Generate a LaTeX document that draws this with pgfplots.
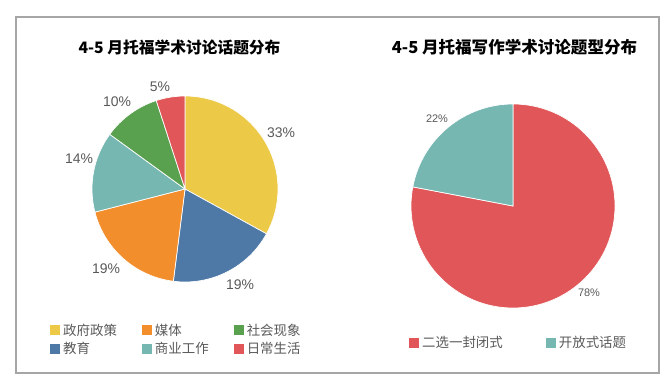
\documentclass[border=0pt]{standalone}
\usepackage{pgfplots}
\pgfplotsset{compat=1.18}
\usepackage{fontspec}
\setmainfont{Liberation Sans}
\newfontfamily\cjk{Noto Sans CJK SC}
\definecolor{tyel}{HTML}{EDC948}
\definecolor{tblue}{HTML}{4E79A7}
\definecolor{torange}{HTML}{F28E2B}
\definecolor{tteal}{HTML}{76B7B2}
\definecolor{tgreen}{HTML}{59A14F}
\definecolor{tred}{HTML}{E15759}
\definecolor{lbl}{HTML}{595959}
\definecolor{frame}{HTML}{A6A6A6}
% slice: colour, cx, cy, radius, start percent, end percent
\newcommand{\slice}[6]{%
  \fill[#1, draw=white, line width=0.7pt] (axis cs:#2,#3) -- ++({90-3.6*#5}:#4bp)
    arc[start angle={90-3.6*#5}, end angle={90-3.6*#6}, radius=#4bp] -- cycle;}
\pgfplotsset{canvas/.style={
  scale only axis, width=672bp, height=378bp,
  xmin=0, xmax=672, ymin=0, ymax=378, hide axis, clip=false,
  legend image code/.code={\fill[##1, draw=none] (0bp,-5bp) rectangle (10bp,5bp);},
}}
\begin{document}
\begin{tikzpicture}
% ---------- left chart ----------
\begin{axis}[canvas,
  legend columns=3,
  legend style={at={(axis cs:47,58)}, anchor=north west, draw=none, fill=none,
    font=\cjk\fontsize{13.5}{15}\selectfont, text=lbl,
    nodes={inner xsep=3bp, inner ysep=1.5bp},
    /tikz/every even column/.append style={column sep=22bp},
    row sep=2.5bp},
  legend cell align=left]
\path (axis cs:0,0) rectangle (axis cs:672,378);
\draw[frame, line width=1.2bp] (axis cs:16,361) rectangle (axis cs:659,5);
\node[font=\cjk\bfseries\fontsize{15.8}{18}\selectfont] at (axis cs:179.5,331) {4-5 月托福学术讨论话题分布};
% values (percent): 33, 19, 19, 14, 10, 5
\slice{tyel}{185}{189}{93}{0}{33}
\slice{tblue}{185}{189}{93}{33}{52}
\slice{torange}{185}{189}{93}{52}{71}
\slice{tteal}{185}{189}{93}{71}{85}
\slice{tgreen}{185}{189}{93}{85}{95}
\slice{tred}{185}{189}{93}{95}{100}
\begin{scope}[every node/.style={text=lbl, font=\fontsize{14}{16}\selectfont}]
\node at (axis cs:281,245) {33\%};
\node at (axis cs:240,93) {19\%};
\node at (axis cs:106,109) {19\%};
\node at (axis cs:79,219) {14\%};
\node at (axis cs:117,276) {10\%};
\node at (axis cs:160,291) {5\%};
\end{scope}
\addlegendimage{fill=tyel}\addlegendentry{政府政策}
\addlegendimage{fill=torange}\addlegendentry{媒体}
\addlegendimage{fill=tgreen}\addlegendentry{社会现象}
\addlegendimage{fill=tblue}\addlegendentry{教育}
\addlegendimage{fill=tteal}\addlegendentry{商业工作}
\addlegendimage{fill=tred}\addlegendentry{日常生活}
\end{axis}
% ---------- right chart ----------
\begin{axis}[canvas,
  legend columns=2,
  legend style={at={(axis cs:406,35)}, anchor=west, draw=none, fill=none,
    font=\cjk\fontsize{13.5}{15}\selectfont, text=lbl,
    nodes={inner xsep=3bp, inner ysep=1.5bp},
    /tikz/every even column/.append style={column sep=40bp}},
  legend cell align=left]
\node[font=\cjk\bfseries\fontsize{16.6}{19}\selectfont] at (axis cs:514.5,331) {4-5 月托福写作学术讨论题型分布};
% values (percent): 78, 22
\slice{tred}{513}{172}{102}{0}{78}
\slice{tteal}{513}{172}{102}{78}{100}
\begin{scope}[every node/.style={text=lbl, font=\fontsize{11}{13}\selectfont}]
\node at (axis cs:437,259) {22\%};
\node at (axis cs:589,85) {78\%};
\end{scope}
\addlegendimage{fill=tred}\addlegendentry{二选一封闭式}
\addlegendimage{fill=tteal}\addlegendentry{开放式话题}
\end{axis}
\end{tikzpicture}
\end{document}
